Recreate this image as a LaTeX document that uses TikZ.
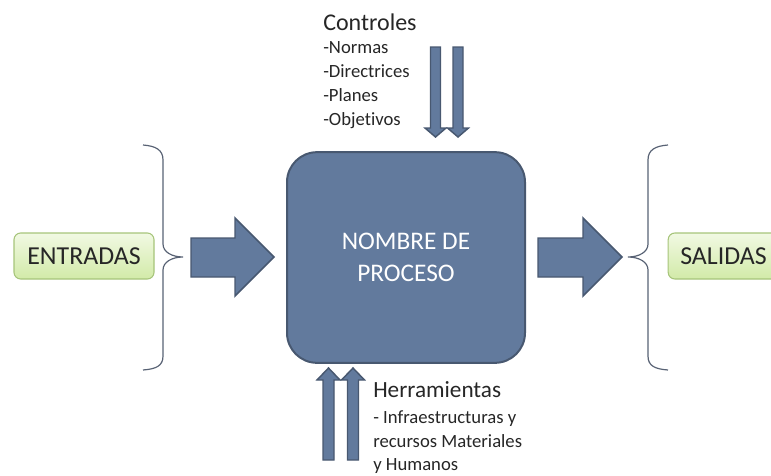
\documentclass[tikz,border=0pt]{standalone}
\usepackage{fontspec}
\setmainfont{Carlito}[Ligatures=NoCommon]
\definecolor{procfill}{RGB}{98,122,157}
\definecolor{procline}{RGB}{72,88,112}
\definecolor{greentop}{RGB}{241,249,227}
\definecolor{greenbot}{RGB}{210,234,168}
\definecolor{greenline}{RGB}{166,196,122}
\definecolor{bracecol}{RGB}{88,98,116}
\definecolor{labelcol}{RGB}{38,38,38}
\tikzset{
process/.style={draw=procline,line width=1.5pt,fill=procfill,rounded corners=22.5pt,
  minimum width=178.5pt,minimum height=158pt,align=center,text=white,
  font=\fontsize{19}{24}\selectfont},
ioBox/.style={draw=greenline,line width=0.8pt,top color=greentop,bottom color=greenbot,
  rounded corners=5pt,minimum height=34.5pt,text=labelcol,font=\fontsize{19.4}{22}\selectfont},
blockarrow/.style={draw=procline,line width=1.1pt,fill=procfill},
brace/.style={draw=bracecol,line width=0.9pt},
title/.style={anchor=base west,inner sep=0pt,text=labelcol,font=\fontsize{18}{20}\selectfont},
item/.style={anchor=base west,inner sep=0pt,text=labelcol,font=\fontsize{14}{18}\selectfont}
}
\begin{document}
\begin{tikzpicture}[x=0.75pt,y=0.75pt,yscale=-1,xscale=1]
\useasboundingbox (0,0) rectangle (771,475);

% process box
\node[process] (proc) at (406,257.5) {NOMBRE DE\\PROCESO};

% inputs and outputs
\node[ioBox,minimum width=105pt] (entradas) at (84,256) {ENTRADAS};
\node[ioBox,minimum width=83pt] (salidas) at (723.5,256) {SALIDAS};

% braces
\draw[brace] (143,145) .. controls (156,146) and (163,150) .. (163,160) -- (163,244)
  .. controls (163,252) and (172,257) .. (183,257) .. controls (172,257) and (163,262) .. (163,270)
  -- (163,356) .. controls (163,366) and (156,369) .. (143,370);
\draw[brace] (668,145) .. controls (655,146) and (648,150) .. (648,160) -- (648,244)
  .. controls (648,252) and (639,257) .. (628,257) .. controls (639,257) and (648,262) .. (648,270)
  -- (648,356) .. controls (648,366) and (655,369) .. (668,370);

% block arrows in and out
\draw[blockarrow] (191,238) -- (235,238) -- (235,218) -- (274,257) -- (235,296) -- (235,277) -- (191,277) -- cycle;
\draw[blockarrow] (538,238) -- (583,238) -- (583,218) -- (622,257) -- (583,296) -- (583,277) -- (538,277) -- cycle;

% control arrows (down)
\foreach \cx in {435.5,458}
  \draw[blockarrow] (\cx-5,47) -- (\cx+5,47) -- (\cx+5,128) -- (\cx+10.5,128) -- (\cx,137)
    -- (\cx-10.5,128) -- (\cx-5,128) -- cycle;

% tool arrows (up)
\foreach \cx in {328.5,353}
  \draw[blockarrow] (\cx-5.5,460) -- (\cx+5.5,460) -- (\cx+5.5,380) -- (\cx+11.5,380) -- (\cx,368)
    -- (\cx-11.5,380) -- (\cx-5.5,380) -- cycle;

% controles text
\node[title] (controles) at (323,30) {Controles};
\node[item] (normas) at (323,53) {-Normas};
\node[item] (directrices) at (323,77) {-Directrices};
\node[item] (planes) at (323,101) {-Planes};
\node[item] (objetivos) at (323,125) {-Objetivos};

% herramientas text
\node[title,font=\fontsize{17.4}{20}\selectfont] (herramientas) at (373,397) {Herramientas};
\node[item] (infra) at (373,423) {- Infraestructuras y};
\node[item] (recursos) at (373,447) {recursos Materiales};
\node[item] (humanos) at (373,470) {y Humanos};

\end{tikzpicture}
\end{document}
